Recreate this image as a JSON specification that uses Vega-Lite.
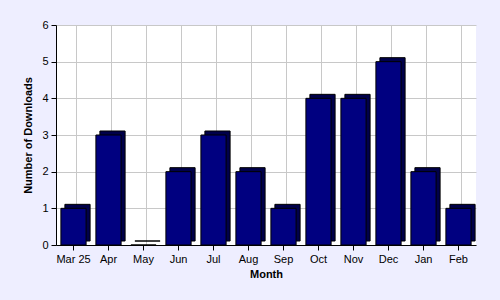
{
  "$schema": "https://vega.github.io/schema/vega-lite/v6.json",
  "autosize": "none",
  "width": 420,
  "height": 220,
  "padding": {"left": 56, "top": 25, "right": 24, "bottom": 55},
  "background": "#eeeeff",
  "config": {
    "view": {"fill": "white", "stroke": null},
    "font": "Liberation Sans",
    "axis": {
      "labelFont": "Liberation Sans",
      "titleFont": "Liberation Sans",
      "labelFontSize": 11,
      "titleFontSize": 11,
      "titleFontWeight": "bold",
      "labelColor": "black",
      "titleColor": "black",
      "domainColor": "black",
      "tickColor": "black",
      "gridColor": "#c8c8c8",
      "gridOpacity": 1
    }
  },
  "data": {
    "values": [
      {"month": "Mar 25", "downloads": 1},
      {"month": "Apr", "downloads": 3},
      {"month": "May", "downloads": 0},
      {"month": "Jun", "downloads": 2},
      {"month": "Jul", "downloads": 3},
      {"month": "Aug", "downloads": 2},
      {"month": "Sep", "downloads": 1},
      {"month": "Oct", "downloads": 4},
      {"month": "Nov", "downloads": 4},
      {"month": "Dec", "downloads": 5},
      {"month": "Jan", "downloads": 2},
      {"month": "Feb", "downloads": 1}
    ]
  },
  "encoding": {
    "x": {
      "field": "month",
      "type": "nominal",
      "sort": null,
      "title": "Month",
      "scale": {"paddingInner": 0.28, "paddingOuter": 0.14},
      "axis": {"labelAngle": 0, "grid": false, "tickSize": 5, "titlePadding": 4, "labelPadding": 3}
    }
  },
  "layer": [
    {
      "mark": {"type": "rule", "color": "#c8c8c8", "xOffset": 3}
    },
    {
      "mark": {"type": "bar", "xOffset": 4, "yOffset": -4, "fill": "#00004a", "stroke": "black", "strokeWidth": 1},
      "encoding": {
        "y": {
          "field": "downloads",
          "type": "quantitative",
          "title": "Number of Downloads",
          "scale": {"domain": [0, 6], "nice": false},
          "axis": {"values": [0, 1, 2, 3, 4, 5, 6], "grid": true, "tickSize": 5, "titlePadding": 8, "labelPadding": 3}
        }
      }
    },
    {
      "mark": {"type": "bar", "fill": "#000080", "stroke": "black", "strokeWidth": 1},
      "encoding": {
        "y": {
          "field": "downloads",
          "type": "quantitative",
          "title": "Number of Downloads",
          "scale": {"domain": [0, 6], "nice": false},
          "axis": {"values": [0, 1, 2, 3, 4, 5, 6], "grid": true, "tickSize": 5, "titlePadding": 8, "labelPadding": 3}
        }
      }
    }
  ]
}
